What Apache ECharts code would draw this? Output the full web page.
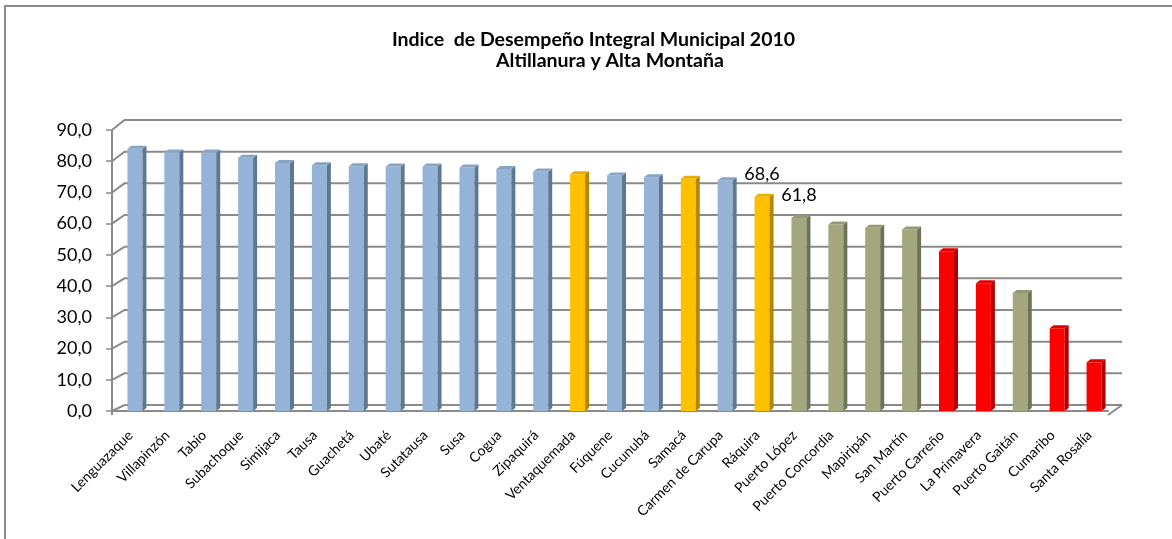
<!DOCTYPE html>
<html><head><meta charset="utf-8">
<script src="https://cdn.jsdelivr.net/npm/echarts@6/dist/echarts.min.js"></script>
<style>html,body{margin:0;padding:0;background:#fff}#c{width:1172px;height:539px}</style>
</head><body><div id="c"></div>
<script>
const categories = ['Lenguazaque','Villapinzón','Tabio','Subachoque','Simijaca','Tausa','Guachetá','Ubaté','Sutatausa','Susa','Cogua','Zipaquirá','Ventaquemada','Fúquene','Cucunubá','Samacá','Carmen de Carupa','Ráquira','Puerto López','Puerto Concordia','Mapiripán','San Martín','Puerto Carreño','La Primavera','Puerto Gaitán','Cumaribo','Santa Rosalía'];
const values = [84.0, 82.8, 82.8, 81.1, 79.4, 78.7, 78.4, 78.3, 78.3, 78.0, 77.5, 76.7, 75.8, 75.4, 74.9, 74.4, 73.9, 68.6, 61.8, 59.7, 58.7, 58.1, 51.2, 40.9, 37.8, 26.5, 15.6];
const groups = ['blue','blue','blue','blue','blue','blue','blue','blue','blue','blue','blue','blue','gold','blue','blue','gold','blue','gold','olive','olive','olive','olive','red','red','olive','red','red'];
const labelled = ['Ráquira','Puerto López'];
const yTicks = [0,10,20,30,40,50,60,70,80,90];
const titleLines = ['Indice  de Desempeño Integral Municipal 2010', 'Altillanura y Alta Montaña'];

const palette = {
  blue:  {front:'#95B3D7', side:'#5E7891', top:'#87A4C5'},
  gold:  {front:'#FFC000', side:'#B38600', top:'#E8AE00'},
  olive: {front:'#A4A67E', side:'#6E7256', top:'#979972'},
  red:   {front:'#FF0000', side:'#B00000', top:'#E00000'}
};
const gridColor = '#8a8a8a';
const fmt = v => Number(v).toFixed(1).replace('.', ',');

const chart = echarts.init(document.getElementById('c'));
chart.setOption({
  animation: false,
  graphic: [
    {type:'polyline', shape:{points:[[5,560],[5,6],[1180,6]]}, style:{stroke:'#8a8a8a', lineWidth:2, fill:null}},
    {type:'text', x:593.5, y:40, style:{text:titleLines[0], textAlign:'center', textVerticalAlign:'middle', font:'bold 19.5px Lato', fill:'#000'}},
    {type:'text', x:610, y:61, style:{text:titleLines[1], textAlign:'center', textVerticalAlign:'middle', font:'bold 19.5px Lato', fill:'#000'}}
  ],
  grid: {left:112, right:64, top:130, bottom:128},
  xAxis: {
    type:'category', data:categories, offset:4,
    axisLine:{lineStyle:{color:gridColor, width:2}},
    axisTick:{length:5, lineStyle:{color:gridColor, width:1.5}},
    axisLabel:{rotate:45, interval:0, margin:18, fontFamily:'Lato', fontSize:14, color:'#000'}
  },
  yAxis: {
    type:'value', min:0, max:90, interval:10,
    axisLine:{show:true, lineStyle:{color:gridColor, width:2}},
    axisTick:{show:true, length:6, lineStyle:{color:gridColor, width:1.5}},
    splitLine:{show:false},
    axisLabel:{formatter:fmt, margin:20, fontFamily:'Lato', fontSize:18, color:'#000'}
  },
  series: [
    {
      type:'custom', z:1, silent:true,
      data: yTicks.map(v => [0, v]),
      encode:{x:0, y:1},
      renderItem: function(params, api){
        const v = api.value(1);
        const p = api.coord([0, v]);
        const band = api.size([1, 0])[0];
        const n = categories.length;
        const x0 = p[0] - band/2;
        const xr = api.coord([n-1, v])[0] + band/2;
        const yf = p[1];
        const dx = 12.5, dy = -(6 + 4*v/90);
        const st = {stroke:gridColor, lineWidth:2, fill:null};
        const children = [{type:'polyline', shape:{points:[[x0,yf],[x0+dx,yf+dy],[xr+dx+1.5,yf+dy]]}, style:st}];
        if (v === 0) {
          children.push({type:'polyline', shape:{points:[[xr,yf+4],[xr+dx+1.5,yf+dy]]}, style:st});
          children.push({type:'polyline', shape:{points:[[x0,yf],[x0,yf+4]]}, style:st});
        }
        return {type:'group', children};
      }
    },
    {
      type:'custom', z:2,
      data: values.map((v, i) => [i, v]),
      encode:{x:0, y:1},
      renderItem: function(params, api){
        const idx = api.value(0), v = api.value(1);
        const t = api.coord([idx, v]);
        const b = api.coord([idx, 0]);
        const w = 15, sd = 4, td = 3;
        const xl = t[0] - 3, xr = xl + w;
        const c = palette[groups[idx]];
        const children = [
          {type:'rect', shape:{x:xl, y:t[1], width:w, height:b[1]-t[1]}, style:{fill:c.front}},
          {type:'polygon', shape:{points:[[xr,t[1]],[xr+sd,t[1]-td],[xr+sd,b[1]-td],[xr,b[1]]]}, style:{fill:c.side}},
          {type:'polygon', shape:{points:[[xl,t[1]],[xl+sd,t[1]-td],[xr+sd,t[1]-td],[xr,t[1]]]}, style:{fill:c.top}}
        ];
        if (labelled.indexOf(categories[idx]) >= 0) {
          children.push({type:'text', x:xl + w/2, y:t[1] - 22.5, style:{text:fmt(v), textAlign:'center', textVerticalAlign:'middle', font:'18px Lato', fill:'#000'}});
        }
        return {type:'group', children};
      }
    }
  ]
});
</script>
</body></html>
